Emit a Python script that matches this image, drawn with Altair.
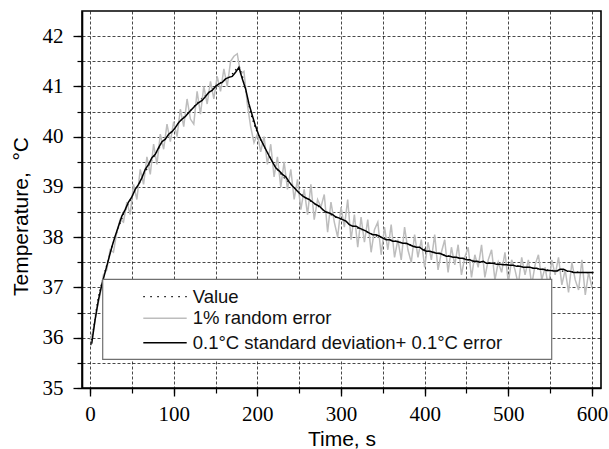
import altair as alt
import pandas as pd

# ---- data ----
value_t = [1, 5, 10, 15, 20, 25, 30, 40, 50, 60, 70, 80, 90, 100, 110, 120, 130, 140, 150,
           160, 170, 178, 185, 190, 200, 210, 220, 230, 240, 250, 260, 270, 280, 290, 300,
           320, 340, 360, 380, 400, 420, 440, 460, 480, 500, 520, 540, 560, 580, 600]
value_v = [35.85, 36.3, 36.8, 37.15, 37.45, 37.75, 38.0, 38.45, 38.8, 39.1, 39.42, 39.7, 39.95,
           40.15, 40.35, 40.52, 40.7, 40.85, 41.0, 41.12, 41.25, 41.38, 41.0, 40.6, 40.08,
           39.75, 39.45, 39.22, 39.05, 38.9, 38.76, 38.65, 38.53, 38.43, 38.35, 38.18, 38.04,
           37.94, 37.86, 37.76, 37.66, 37.59, 37.53, 37.49, 37.45, 37.41, 37.36, 37.33, 37.31, 37.29]

gray_t = list(range(0, 601, 4))
gray_v = [35.95, 36.15, 36.55, 36.85, 37.25, 37.35, 37.75, 37.70, 38.10, 38.35,
          38.30, 38.70, 38.45, 39.05, 38.75, 39.35, 39.05, 39.60, 39.25, 39.85,
          39.45, 40.05, 39.75, 40.25, 39.90, 40.30, 40.00, 40.55, 40.20, 40.75,
          40.35, 40.25, 40.90, 40.45, 41.00, 40.65, 41.10, 40.75, 41.20, 40.90,
          41.35, 41.00, 41.50, 41.60, 41.65, 41.25, 41.30, 40.65, 40.20, 39.88,
          40.05, 39.70, 40.00, 39.45, 39.85, 39.20, 39.60, 39.00, 39.50, 38.95,
          39.35, 38.75, 39.15, 38.55, 38.95, 38.45, 39.05, 38.35, 38.75, 38.60,
          38.85, 38.10, 38.70, 38.30, 38.00, 38.60, 38.20, 38.75, 37.95, 38.45,
          37.80, 38.40, 37.90, 38.35, 37.70, 38.15, 38.30, 37.65, 38.20, 37.75,
          38.25, 37.60, 37.95, 37.55, 38.20, 37.75, 37.50, 38.05, 37.60, 37.95,
          37.40, 37.90, 37.55, 38.05, 37.35, 37.70, 37.95, 37.30, 37.80, 37.45,
          37.85, 37.25, 37.60, 37.80, 37.20, 37.65, 37.40, 37.85, 37.20, 37.55,
          37.75, 37.15, 37.50, 37.30, 37.70, 37.10, 37.55, 37.35, 37.05, 37.60,
          37.25, 37.55, 37.05, 37.45, 37.65, 37.15, 37.40, 37.00, 37.55, 37.25,
          37.60, 37.05, 37.35, 36.90, 37.50, 37.15, 36.95, 37.55, 36.85, 37.30,
          37.00]

black_t = list(range(2, 603, 4))
black_v = [35.88, 36.35, 36.75, 37.05, 37.30, 37.55, 37.80, 38.02, 38.22, 38.42,
           38.55, 38.70, 38.80, 38.95, 39.05, 39.18, 39.35, 39.45, 39.58, 39.65,
           39.78, 39.90, 39.95, 40.05, 40.10, 40.18, 40.28, 40.35, 40.40, 40.48,
           40.55, 40.62, 40.68, 40.72, 40.80, 40.88, 40.92, 41.00, 41.05, 41.08,
           41.15, 41.18, 41.20, 41.28, 41.38, 41.15, 40.95, 40.65, 40.42, 40.20,
           40.02, 39.88, 39.75, 39.62, 39.50, 39.38, 39.32, 39.25, 39.20, 39.10,
           39.02, 38.95, 38.88, 38.82, 38.78, 38.75, 38.70, 38.65, 38.62, 38.55,
           38.50, 38.48, 38.45, 38.40, 38.38, 38.35, 38.32, 38.25, 38.22, 38.22,
           38.18, 38.15, 38.12, 38.08, 38.05, 38.05, 38.02, 37.98, 37.95, 37.95,
           37.92, 37.92, 37.90, 37.88, 37.88, 37.85, 37.82, 37.80, 37.80, 37.75,
           37.72, 37.72, 37.70, 37.68, 37.68, 37.65, 37.62, 37.62, 37.60, 37.60,
           37.58, 37.58, 37.55, 37.55, 37.52, 37.52, 37.50, 37.52, 37.48, 37.48,
           37.48, 37.46, 37.46, 37.45, 37.45, 37.44, 37.44, 37.42, 37.42, 37.40,
           37.40, 37.40, 37.38, 37.38, 37.36, 37.36, 37.34, 37.34, 37.33, 37.33,
           37.36, 37.36, 37.33, 37.32, 37.30, 37.30, 37.30, 37.30, 37.30, 37.30,
           37.30]

x_major = [0, 100, 200, 300, 400, 500, 600]
x_minor = [0, 50, 100, 150, 200, 250, 300, 350, 400, 450, 500, 550, 600]
y_major = [35, 36, 37, 38, 39, 40, 41, 42]
y_minor = [35, 35.5, 36, 36.5, 37, 37.5, 38, 38.5, 39, 39.5, 40, 40.5, 41, 41.5, 42]

legend_labels = ["Value", "1% random error", "0.1\u00b0C standard deviation+ 0.1\u00b0C error"]

value_df = pd.DataFrame({"t": value_t, "v": value_v})
gray_df = pd.DataFrame({"t": gray_t, "v": gray_v})
black_df = pd.DataFrame({"t": black_t, "v": black_v})

xs = alt.Scale(domain=[-9.6, 610.8], nice=False, zero=False)
ys = alt.Scale(domain=[35, 42.5], nice=False, zero=False)

SERIF = "Liberation Serif"
SANS = "Liberation Sans"

# grid + minor ticks
grid_layer = alt.Chart(value_df).mark_line(opacity=0).encode(
    x=alt.X("t:Q", scale=xs, axis=alt.Axis(
        orient="bottom", values=x_minor, labels=False, tickSize=5, tickColor="black",
        tickWidth=1.2, grid=True, gridDash=[3, 2], gridColor="black", gridWidth=0.8,
        gridOpacity=0.9, domain=False, title=None)),
    y=alt.Y("v:Q", scale=ys, axis=alt.Axis(
        orient="left", values=y_minor, labels=False, tickSize=5, tickColor="black",
        tickWidth=1.2, grid=True, gridDash=[3, 2], gridColor="black", gridWidth=0.8,
        gridOpacity=0.9, domain=False, title=None)),
)

value_line = alt.Chart(value_df).mark_line(
    color="black", strokeWidth=1.2, strokeDash=[1.5, 3.5], interpolate="monotone"
).encode(x=alt.X("t:Q", scale=xs, axis=None), y=alt.Y("v:Q", scale=ys, axis=None))

gray_line = alt.Chart(gray_df).mark_line(color="#bdbdbd", strokeWidth=1.5).encode(
    x=alt.X("t:Q", scale=xs, axis=None), y=alt.Y("v:Q", scale=ys, axis=None))

black_line = alt.Chart(black_df).mark_line(color="black", strokeWidth=1.5).encode(
    x=alt.X("t:Q", scale=xs, axis=alt.Axis(
        orient="bottom", values=x_major, tickSize=8, tickColor="black", tickWidth=1.3,
        labelFont=SERIF, labelFontSize=21, labelColor="black",
        labelBaseline="alphabetic", labelPadding=24, labelBound=False, grid=False,
        domainColor="black", domainWidth=1.6,
        title="Time, s", titleBaseline="alphabetic", titleY=57)),
    y=alt.Y("v:Q", scale=ys, axis=alt.Axis(
        orient="left", values=y_major, tickSize=9, tickColor="black", tickWidth=1.3,
        labelFont=SERIF, labelFontSize=21, labelColor="black",
        labelPadding=10, grid=False, domainColor="black", domainWidth=1.6,
        title="Temperature,\u00a0\u00a0\u00b0C", titleBaseline="alphabetic",
        titleAlign="center", titleAngle=270, titleX=-55, titleY=205)),
)

# legend box (drawn on top of the data)
one = pd.DataFrame({"k": [0]})
legend_box = alt.Chart(one).mark_rect(fill="white", stroke="#707070", strokeWidth=1.2).encode(
    x=alt.value(20.7), x2=alt.value(469.7), y=alt.value(268.3), y2=alt.value(348.3))

rows_y = [285.7, 307.3, 331.7]
sample_value = alt.Chart(one).mark_rule(color="black", strokeWidth=1.3, strokeDash=[1.5, 5.5]).encode(
    x=alt.value(61.3), x2=alt.value(104.7), y=alt.value(rows_y[0]))
sample_gray = alt.Chart(one).mark_rule(color="#bdbdbd", strokeWidth=1.5).encode(
    x=alt.value(61.3), x2=alt.value(104.7), y=alt.value(rows_y[1]))
sample_black = alt.Chart(one).mark_rule(color="black", strokeWidth=1.5).encode(
    x=alt.value(61.3), x2=alt.value(104.7), y=alt.value(rows_y[2]))

legend_text_df = pd.DataFrame({"label": legend_labels, "row": [0, 1, 2]})
legend_texts = []
for i, lab in enumerate(legend_labels):
    legend_texts.append(
        alt.Chart(legend_text_df[legend_text_df["row"] == i]).mark_text(
            align="left", baseline="middle", font=SANS, fontSize=18.5, color="#111111"
        ).encode(x=alt.value(110.7), y=alt.value(rows_y[i]), text="label:N")
    )

chart = alt.layer(
    grid_layer, value_line, gray_line, black_line,
    legend_box, sample_value, sample_gray, sample_black, *legend_texts
).resolve_axis(x="independent", y="independent").properties(
    width=519, height=377,
    padding={"left": 82, "top": 11, "right": 8, "bottom": 61},
    autosize="none",
    background="white",
).configure_view(
    stroke="black", strokeWidth=1.6
).configure_axis(
    titleFont=SANS, titleFontSize=21, titleFontWeight="normal", titleColor="black",
)

chart.save("out.html", embed_options={"renderer": "svg", "actions": False})
